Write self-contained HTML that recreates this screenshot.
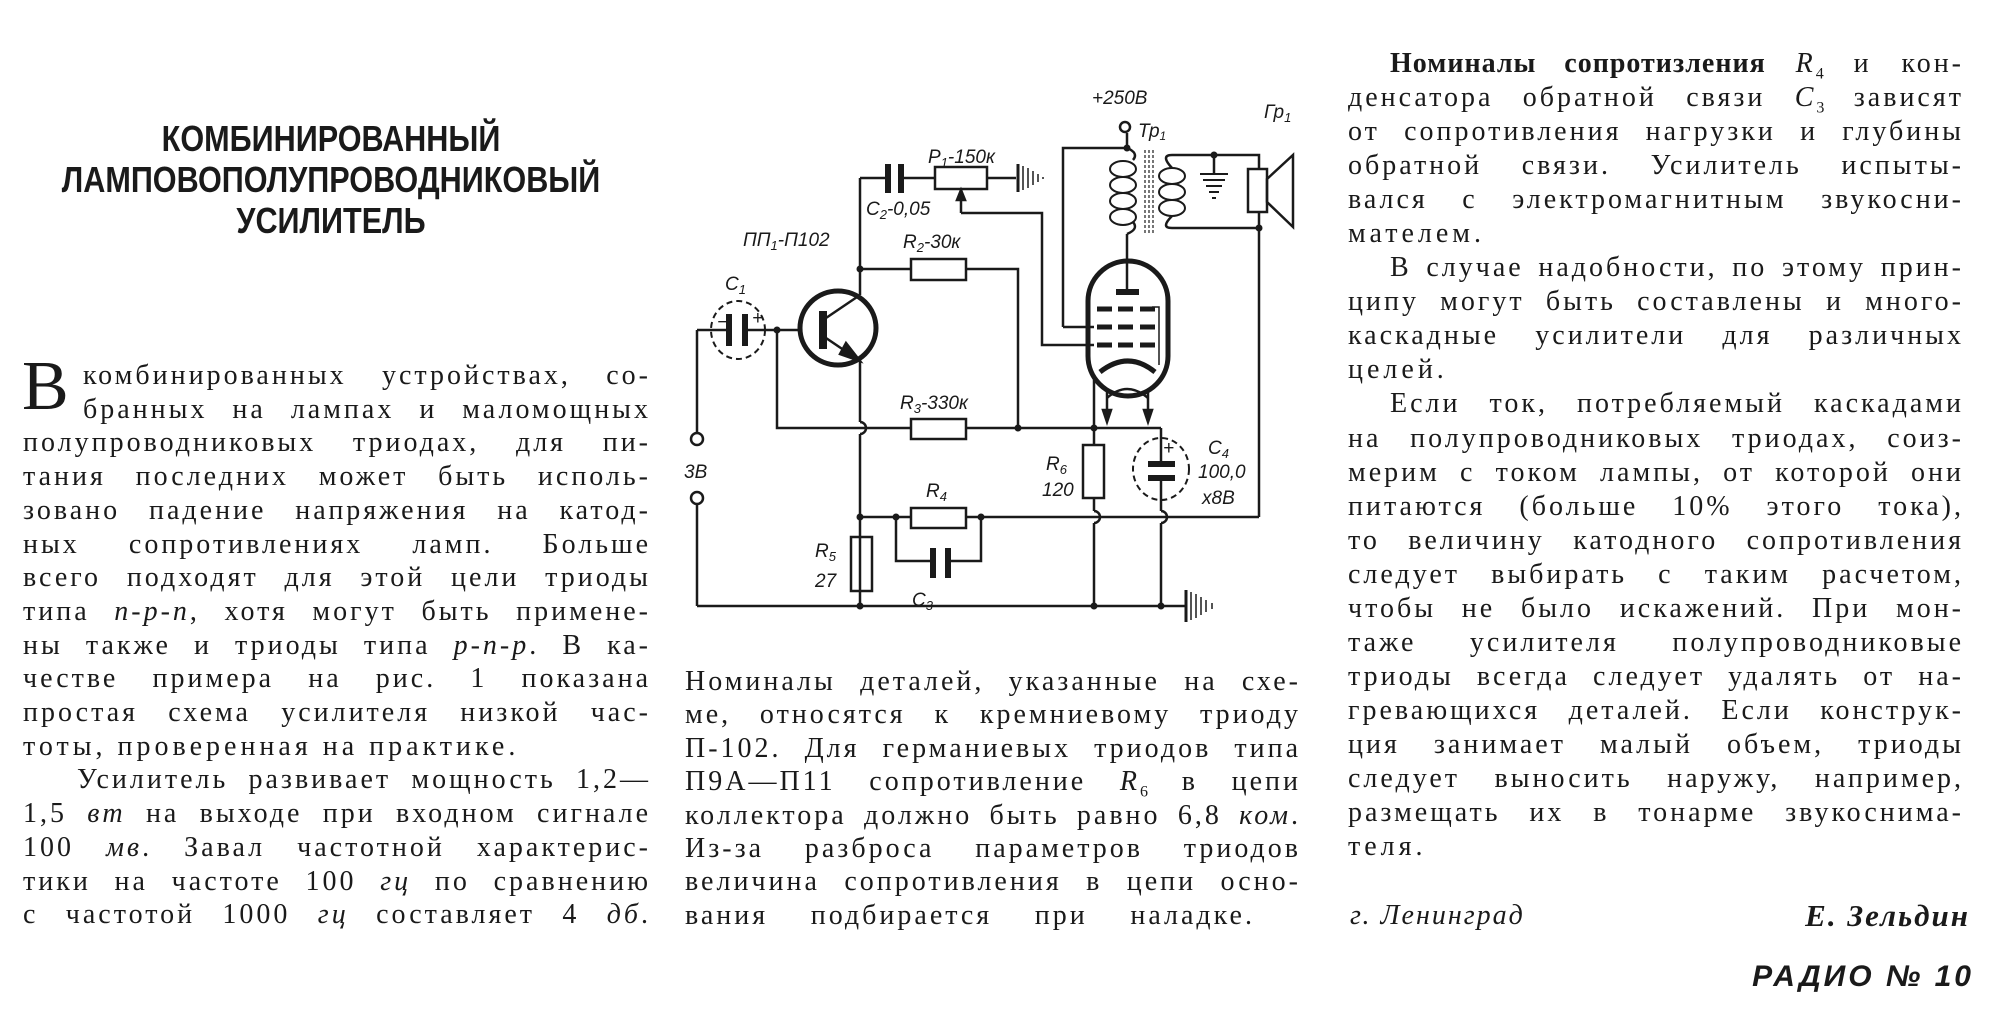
<!DOCTYPE html>
<html><head><meta charset="utf-8"><style>
html,body{margin:0;padding:0;background:#fff;}
body{width:2000px;height:1020px;position:relative;overflow:hidden;font-family:"Liberation Serif","Noto Serif CJK SC",serif;color:#1a1a1a;}
.col{position:absolute;font-size:28px;line-height:33.7px;letter-spacing:3px;}
.col div{text-align:justify;text-align-last:justify;white-space:nowrap;}
.col div.l{text-align-last:left;}
.title{position:absolute;left:331px;top:118px;transform:translateX(-50%) scaleX(0.85);transform-origin:50% 0;text-align:center;font-family:"Liberation Sans",sans-serif;font-weight:bold;font-size:36px;line-height:41px;white-space:nowrap;}
sub{font-size:16px;line-height:0;letter-spacing:0;}
.cap{position:absolute;left:22px;top:352px;font-size:70px;line-height:70px;}
svg text{font-family:"Liberation Sans",sans-serif;font-style:italic;font-size:19px;fill:#1a1a1a;}
</style></head><body>
<div class="title">КОМБИНИРОВАННЫЙ<br>ЛАМПОВОПОЛУПРОВОДНИКОВЫЙ<br>УСИЛИТЕЛЬ</div>
<div class="cap">В</div>
<div class="col" style="left:23px;top:359px;width:628px;">
<div style="padding-left:60px">комбинированных устройствах, со-</div>
<div style="padding-left:60px">бранных на лампах и маломощных</div>
<div>полупроводниковых триодах, для пи-</div>
<div>тания последних может быть исполь-</div>
<div>зовано падение напряжения на катод-</div>
<div>ных сопротивлениях ламп. Больше</div>
<div>всего подходят для этой цели триоды</div>
<div>типа <i>n-p-n</i>, хотя могут быть примене-</div>
<div>ны также и триоды типа <i>p-n-p</i>. В ка-</div>
<div>честве примера на рис. 1 показана</div>
<div>простая схема усилителя низкой час-</div>
<div class="l" style="letter-spacing:4px">тоты, проверенная на практике.</div>
<div style="padding-left:54px">Усилитель развивает мощность 1,2—</div>
<div>1,5 <i>вт</i> на выходе при входном сигнале</div>
<div>100 <i>мв</i>. Завал частотной характерис-</div>
<div>тики на частоте 100 <i>гц</i> по сравнению</div>
<div>с частотой 1000 <i>гц</i> составляет 4 <i>дб</i>.</div>
</div>
<div class="col" style="left:685px;top:665px;width:616px;line-height:33.4px;">
<div>Номиналы деталей, указанные на схе-</div>
<div>ме, относятся к кремниевому триоду</div>
<div>П-102. Для германиевых триодов типа</div>
<div>П9А—П11 сопротивление <i>R</i><sub>6</sub> в цепи</div>
<div>коллектора должно быть равно 6,8 <i>ком</i>.</div>
<div>Из-за разброса параметров триодов</div>
<div>величина сопротивления в цепи осно-</div>
<div style="width:570px">вания подбирается при наладке.</div>
</div>
<div class="col" style="left:1348px;top:47px;width:616px;line-height:34.05px;">
<div style="padding-left:42px"><b style="letter-spacing:1px">Номиналы сопротизления</b> <i>R</i><sub>4</sub> и кон-</div>
<div>денсатора обратной связи <i>C</i><sub>3</sub> зависят</div>
<div>от сопротивления нагрузки и глубины</div>
<div>обратной связи. Усилитель испыты-</div>
<div>вался с электромагнитным звукосни-</div>
<div class="l" style="letter-spacing:4px">мателем.</div>
<div style="padding-left:42px">В случае надобности, по этому прин-</div>
<div>ципу могут быть составлены и много-</div>
<div>каскадные усилители для различных</div>
<div class="l" style="letter-spacing:4px">целей.</div>
<div style="padding-left:42px">Если ток, потребляемый каскадами</div>
<div>на полупроводниковых триодах, соиз-</div>
<div>мерим с током лампы, от которой они</div>
<div>питаются (больше 10% этого тока),</div>
<div>то величину катодного сопротивления</div>
<div>следует выбирать с таким расчетом,</div>
<div>чтобы не было искажений. При мон-</div>
<div>таже усилителя полупроводниковые</div>
<div>триоды всегда следует удалять от на-</div>
<div>гревающихся деталей. Если конструк-</div>
<div>ция занимает малый объем, триоды</div>
<div>следует выносить наружу, например,</div>
<div>размещать их в тонарме звукоснима-</div>
<div class="l" style="letter-spacing:4px">теля.</div>
</div>
<div style="position:absolute;left:1350px;top:900px;font-size:28px;font-style:italic;letter-spacing:2px;">г. Ленинград</div>
<div style="position:absolute;right:30px;top:898px;font-size:31px;font-style:italic;font-weight:bold;letter-spacing:2px;">Е. Зельдин</div>
<div style="position:absolute;right:26px;top:960px;font-size:30px;font-style:italic;font-weight:bold;font-family:'Liberation Sans',sans-serif;letter-spacing:3px;">РАДИО № 10</div>

<svg width="2000" height="1020" style="position:absolute;left:0;top:0" xmlns="http://www.w3.org/2000/svg">
<g stroke="#1a1a1a" stroke-width="2.5" fill="none">
<polyline points="697,330 712,330"/>
<line x1="697" y1="330" x2="697" y2="432"/>
<circle cx="697" cy="439" r="6"/>
<circle cx="697" cy="498" r="6"/>
<line x1="697" y1="505" x2="697" y2="606"/>
<line x1="697" y1="606" x2="1185" y2="606"/>
<ellipse cx="738" cy="330" rx="27" ry="29" stroke-dasharray="6,4" stroke-width="2"/>
<line x1="712" y1="330" x2="729" y2="330"/>
<line x1="745" y1="330" x2="799" y2="330"/>
<line x1="729" y1="314" x2="729" y2="346" stroke-width="6"/>
<line x1="745" y1="314" x2="745" y2="346" stroke-width="6"/>
<ellipse cx="838" cy="328" rx="38" ry="37" stroke-width="5"/>
<line x1="823" y1="311" x2="823" y2="349" stroke-width="8"/>
<line x1="826" y1="318" x2="860" y2="295"/>
<line x1="826" y1="338" x2="860" y2="361"/>
<polygon points="860,361 846,343 840,354" fill="#1a1a1a"/>
<line x1="860" y1="178" x2="860" y2="295"/>
<line x1="860" y1="361" x2="860" y2="422"/>
<path d="M860,422 a6,6 0 0 1 0,12"/>
<line x1="860" y1="434" x2="860" y2="606"/>
<polyline points="777,330 777,428 911,428"/>
<rect x="911" y="419" width="55" height="20"/>
<line x1="966" y1="428" x2="1161" y2="428"/>
<line x1="1161" y1="428" x2="1161" y2="454"/>
<line x1="860" y1="269" x2="911" y2="269"/>
<rect x="911" y="259" width="55" height="21"/>
<polyline points="966,269 1018,269 1018,428"/>
<line x1="860" y1="178" x2="888" y2="178"/>
<line x1="888" y1="164" x2="888" y2="193" stroke-width="6"/>
<line x1="901" y1="164" x2="901" y2="193" stroke-width="6"/>
<line x1="901" y1="178" x2="935" y2="178"/>
<rect x="935" y="167" width="52" height="22"/>
<line x1="987" y1="178" x2="1016" y2="178"/>
<line x1="961" y1="194" x2="961" y2="213"/>
<polygon points="961,190 957,200 965,200" fill="#1a1a1a"/>
<polyline points="961,213 1042,213 1042,345 1094,345"/>
<rect x="1088" y="261" width="80" height="135" rx="40" ry="40" stroke-width="5"/>
<line x1="1127" y1="234" x2="1127" y2="292"/>
<line x1="1116" y1="292" x2="1139" y2="292" stroke-width="6"/>
<g stroke-width="5">
<line x1="1097" y1="309" x2="1112" y2="309"/><line x1="1118" y1="309" x2="1133" y2="309"/><line x1="1140" y1="309" x2="1155" y2="309"/>
<line x1="1097" y1="327" x2="1112" y2="327"/><line x1="1118" y1="327" x2="1133" y2="327"/><line x1="1140" y1="327" x2="1155" y2="327"/>
<line x1="1097" y1="345" x2="1112" y2="345"/><line x1="1118" y1="345" x2="1133" y2="345"/><line x1="1140" y1="345" x2="1155" y2="345"/>
<path d="M1100,372 Q1128,350 1155,372"/>
</g>
<polyline points="1152,307 1159,307 1159,365" stroke-width="1.5"/>
<path d="M1107,398 Q1127,380 1148,398"/>
<line x1="1107" y1="392" x2="1107" y2="418"/>
<line x1="1148" y1="392" x2="1148" y2="418"/>
<polygon points="1107,422 1103,410 1111,410" fill="#1a1a1a"/>
<polygon points="1148,422 1144,410 1152,410" fill="#1a1a1a"/>
<line x1="1094" y1="380" x2="1094" y2="445"/>
<line x1="1063" y1="327" x2="1094" y2="327"/>
<polyline points="1063,327 1063,148 1127,148"/>
<rect x="1083" y="445" width="21" height="53"/>
<line x1="1094" y1="498" x2="1094" y2="511"/>
<path d="M1094,511 a6,6 0 0 1 0,12"/>
<line x1="1094" y1="523" x2="1094" y2="606"/>
<ellipse cx="1161" cy="469" rx="28" ry="31" stroke-dasharray="6,4" stroke-width="2"/>
<line x1="1161" y1="454" x2="1161" y2="463"/>
<line x1="1148" y1="464" x2="1175" y2="464" stroke-width="6"/>
<line x1="1148" y1="478" x2="1175" y2="478" stroke-width="6"/>
<line x1="1161" y1="479" x2="1161" y2="511"/>
<path d="M1161,511 a6,6 0 0 1 0,12"/>
<line x1="1161" y1="523" x2="1161" y2="606"/>
<line x1="860" y1="517" x2="911" y2="517"/>
<rect x="911" y="508" width="55" height="20"/>
<line x1="966" y1="517" x2="1259" y2="517"/>
<line x1="1259" y1="517" x2="1259" y2="228"/>
<polyline points="896,517 896,561 933,561"/>
<polyline points="948,561 981,561 981,517"/>
<line x1="933" y1="548" x2="933" y2="578" stroke-width="6"/>
<line x1="948" y1="548" x2="948" y2="578" stroke-width="6"/>
<rect x="851" y="537" width="21" height="54"/>
<line x1="1127" y1="133" x2="1127" y2="148"/>
<circle cx="1125" cy="127" r="5"/>
<path d="M1127,148 q12,5 6,12 M1127,234 q12,-5 6,-12"/>
<g stroke-width="2">
<ellipse cx="1123" cy="169" rx="13" ry="8"/><ellipse cx="1123" cy="185" rx="13" ry="8"/><ellipse cx="1123" cy="201" rx="13" ry="8"/><ellipse cx="1123" cy="217" rx="13" ry="8"/>
<ellipse cx="1172" cy="176" rx="13" ry="8"/><ellipse cx="1172" cy="192" rx="13" ry="8"/><ellipse cx="1172" cy="208" rx="13" ry="8"/>
</g>
<g stroke-width="1.2" stroke-dasharray="3,2">
<line x1="1145" y1="150" x2="1145" y2="235"/><line x1="1149" y1="150" x2="1149" y2="235"/><line x1="1153" y1="150" x2="1153" y2="235"/>
</g>
<path d="M1172,168 q-12,-13 0,-13 L1259,155 L1259,169"/>
<path d="M1172,216 q-12,12 0,12 L1259,228 L1259,212"/>
<line x1="1214" y1="155" x2="1214" y2="173"/>
<g stroke-width="2"><line x1="1200" y1="174" x2="1228" y2="174"/><line x1="1203" y1="180" x2="1225" y2="180"/><line x1="1206" y1="186" x2="1222" y2="186"/><line x1="1209" y1="192" x2="1219" y2="192"/><line x1="1212" y1="198" x2="1216" y2="198"/></g>
<rect x="1248" y="169" width="19" height="43"/>
<polygon points="1267,179 1293,155 1293,227 1267,202"/>
</g>
<g fill="#1a1a1a">
<circle cx="777" cy="330" r="3.5"/><circle cx="860" cy="269" r="3.5"/><circle cx="1018" cy="428" r="3.5"/><circle cx="1094" cy="428" r="3.5"/>
<circle cx="860" cy="517" r="3.5"/><circle cx="896" cy="517" r="3.5"/><circle cx="981" cy="517" r="3.5"/>
<circle cx="860" cy="606" r="3.5"/><circle cx="1094" cy="606" r="3.5"/><circle cx="1161" cy="606" r="3.5"/>
<circle cx="1127" cy="148" r="3.5"/><circle cx="1214" cy="155" r="3.5"/><circle cx="1259" cy="228" r="3.5"/>
</g>
<g stroke="#1a1a1a" stroke-width="1.5">
<line x1="1018" y1="164" x2="1018" y2="192" stroke-width="3"/>
<line x1="1023" y1="166" x2="1023" y2="190"/><line x1="1028" y1="168" x2="1028" y2="188"/><line x1="1033" y1="171" x2="1033" y2="185"/><line x1="1038" y1="174" x2="1038" y2="182"/><line x1="1043" y1="177" x2="1043" y2="179"/>
<line x1="1186" y1="590" x2="1186" y2="622" stroke-width="3"/>
<line x1="1191" y1="592" x2="1191" y2="620"/><line x1="1196" y1="594" x2="1196" y2="618"/><line x1="1201" y1="597" x2="1201" y2="615"/><line x1="1206" y1="600" x2="1206" y2="612"/><line x1="1212" y1="603" x2="1212" y2="609"/>
</g>
<text x="928" y="163">P<tspan font-size="13" dy="4">1</tspan><tspan dy="-4">-150к</tspan></text>
<text x="866" y="215">C<tspan font-size="13" dy="4">2</tspan><tspan dy="-4">-0,05</tspan></text>
<text x="743" y="246">ПП<tspan font-size="13" dy="4">1</tspan><tspan dy="-4">-П102</tspan></text>
<text x="903" y="248">R<tspan font-size="13" dy="4">2</tspan><tspan dy="-4">-30к</tspan></text>
<text x="725" y="290">C<tspan font-size="13" dy="4">1</tspan></text>
<text x="717" y="328" font-size="12" font-style="normal">−</text>
<text x="752" y="324" font-size="14" font-style="normal">+</text>
<text x="900" y="409">R<tspan font-size="13" dy="4">3</tspan><tspan dy="-4">-330к</tspan></text>
<text x="684" y="478">3В</text>
<text x="1046" y="470">R<tspan font-size="13" dy="4">6</tspan></text>
<text x="1042" y="496">120</text>
<text x="1163" y="454" font-size="14" font-style="normal">+</text>
<text x="1208" y="454">C<tspan font-size="13" dy="4">4</tspan></text>
<text x="1198" y="478">100,0</text>
<text x="1202" y="504">x8В</text>
<text x="926" y="497">R<tspan font-size="13" dy="4">4</tspan></text>
<text x="815" y="557">R<tspan font-size="13" dy="4">5</tspan></text>
<text x="815" y="587">27</text>
<text x="912" y="606">C<tspan font-size="13" dy="4">3</tspan></text>
<text x="1092" y="104">+250В</text>
<text x="1138" y="137" font-size="17">Тр<tspan font-size="12" dy="3">1</tspan></text>
<text x="1264" y="118">Гр<tspan font-size="13" dy="4">1</tspan></text>
</svg>
</body></html>
